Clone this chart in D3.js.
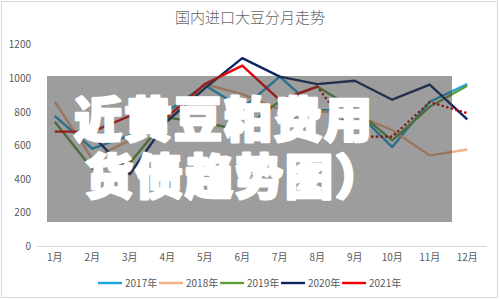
<!DOCTYPE html>
<html>
<head>
<meta charset="utf-8">
<script src="https://cdn.jsdelivr.net/npm/d3@7"></script>
<style>
    body { margin: 0; background: #fff; }
    svg { display: block; font-family: "Noto Sans CJK SC", "Noto Sans", sans-serif; }
</style>
</head>
<body>
<svg id="chart" width="500" height="300"></svg>
<script>
// data (万吨)
const months = ["1月", "2月", "3月", "4月", "5月", "6月", "7月", "8月", "9月", "10月", "11月", "12月"];
const yearNames = ["2017年", "2018年", "2019年", "2020年", "2021年"];
const s2017 = [775, 580, 660, 800, 960, 820, 1010, 810, 810, 590, 860, 965];
const s2018 = [860, 520, 630, 740, 965, 905, 815, 805, 785, 690, 540, 575];
const s2019 = [740, 460, 495, 765, 735, 690, 865, 950, 815, 630, 830, 955];
const s2020 = [null, 660, 428, 745, 940, 1120, 1010, 965, 985, 872, 962, 755];
const s2021 = [682, 682, 775, 770, 965, 1075, 870, 950, 652, 652, 858, 792];
const yTicks = [0, 200, 400, 600, 800, 1000, 1200];
const title = "国内进口大豆分月走势";
const overlayLines = ["近黄豆粕费用", "货债趋势图）"];

const colors = ["#1aa6dc", "#f4b183", "#5e9e3a", "#0b2462", "#f00000"];
const series = [s2017, s2018, s2019, s2020, s2021];

const svg = d3.select("#chart");

// outer border
svg.append("rect")
    .attr("x", 1.5).attr("y", 1.5)
    .attr("width", 496).attr("height", 296)
    .attr("fill", "#fff")
    .attr("stroke", "#d9d9d9");

svg.append("text")
    .attr("x", 250).attr("y", 23)
    .attr("text-anchor", "middle")
    .attr("font-size", 15)
    .attr("font-weight", 300)
    .attr("fill", "#666")
    .text(title);

const x = d3.scaleBand()
    .domain(months)
    .range([36, 486]);

const y = d3.scaleLinear()
    .domain([0, 1200])
    .range([246, 44.7]);

// y labels
svg.append("g")
    .attr("transform", "translate(31,0)")
    .call(d3.axisLeft(y).tickValues(yTicks).tickFormat(d3.format("d")).tickSize(0).tickPadding(0))
    .call(g => g.select(".domain").remove())
    .call(g => g.selectAll("text")
        .attr("font-family", "Noto Sans CJK SC")
        .attr("font-size", 10)
        .attr("fill", "#595959"));

// x axis
svg.append("g")
    .attr("transform", "translate(0,246)")
    .call(d3.axisBottom(x).tickSize(0).tickPadding(8))
    .call(g => g.select(".domain").attr("stroke", "#d9d9d9"))
    .call(g => g.selectAll("text")
        .attr("font-family", "Noto Sans CJK SC")
        .attr("font-size", 10)
        .attr("fill", "#595959"));

const cx = (d, i) => x(months[i]) + x.bandwidth() / 2;

const line = d3.line()
    .defined(d => d != null)
    .x(cx)
    .y(d => y(d));

series.forEach((s, k) => {
    let vals = s;
    if (k === 4) {
        // 2021: solid through Aug, then dotted
        vals = s.map((d, i) => i <= 7 ? d : null);
    }
    svg.append("path")
        .attr("d", line(vals))
        .attr("fill", "none")
        .attr("stroke", colors[k])
        .attr("stroke-width", 2.4)
        .attr("stroke-linejoin", "round");
});

svg.append("path")
    .attr("d", line(s2021.map((d, i) => i >= 7 ? d : null)))
    .attr("fill", "none")
    .attr("stroke", "#c00000")
    .attr("stroke-width", 2.6)
    .attr("stroke-linecap", "round")
    .attr("stroke-dasharray", "0.1 4.6");

// gray overlay box
svg.append("rect")
    .attr("x", 47).attr("y", 76)
    .attr("width", 405).attr("height", 146)
    .attr("fill", "#3c3c3c")
    .attr("opacity", 0.5);

// overlay caption, one text with two lines
const cap = svg.append("text")
    .attr("font-family", "Noto Sans CJK SC")
    .attr("font-size", 48)
    .attr("font-weight", 900)
    .attr("letter-spacing", 2)
    .attr("fill", "#fff")
    .attr("stroke", "#fff")
    .attr("stroke-width", 2.6)
    .attr("stroke-linejoin", "round");
overlayLines.forEach((t, i) => {
    cap.append("tspan")
        .attr("x", i === 0 ? 74 : 85)
        .attr("y", i === 0 ? 137 : 194)
        .text(t);
});

// legend
const legend = svg.append("g").attr("transform", "translate(98,283)");
yearNames.forEach((name, k) => {
    const g = legend.append("g").attr("transform", `translate(${k * 61},0)`);
    g.append("line")
        .attr("x1", 0).attr("x2", 24)
        .attr("stroke", colors[k])
        .attr("stroke-width", 2.4);
    g.append("text")
        .attr("x", 27).attr("y", 3.5)
        .attr("font-size", 10)
        .attr("fill", "#595959")
        .text(name);
});
</script>
</body>
</html>
